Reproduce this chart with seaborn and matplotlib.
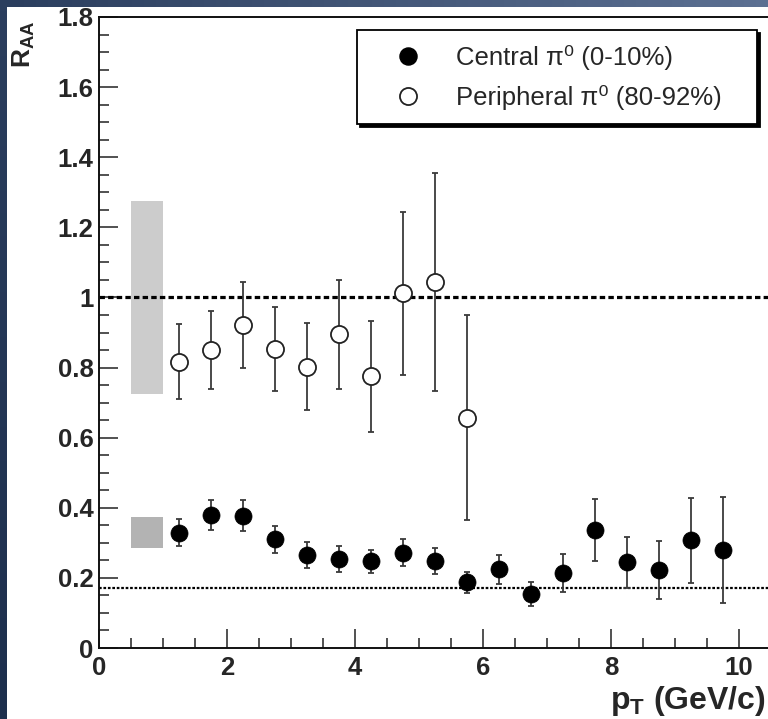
import numpy as np
import pandas as pd
import matplotlib
matplotlib.use("Agg")
import matplotlib.pyplot as plt
import seaborn as sns
from matplotlib.patches import Rectangle
from matplotlib.ticker import MultipleLocator, FuncFormatter
from matplotlib.lines import Line2D

# pi0 nuclear modification factor vs transverse momentum
pt_central = [1.25, 1.75, 2.25, 2.75, 3.25, 3.75, 4.25, 4.75, 5.25,
              5.75, 6.25, 6.75, 7.25, 7.75, 8.25, 8.75, 9.25, 9.75]
raa_central = [0.329, 0.379, 0.377, 0.310, 0.265, 0.253, 0.247, 0.272, 0.248,
               0.187, 0.224, 0.154, 0.215, 0.337, 0.245, 0.223, 0.307, 0.280]
err_central = [0.038, 0.042, 0.044, 0.038, 0.037, 0.037, 0.033, 0.038, 0.038,
               0.031, 0.041, 0.034, 0.054, 0.089, 0.073, 0.083, 0.122, 0.152]

pt_periph = [1.25, 1.75, 2.25, 2.75, 3.25, 3.75, 4.25, 4.75, 5.25, 5.75]
raa_periph = [0.817, 0.850, 0.921, 0.853, 0.803, 0.895, 0.775, 1.012, 1.045, 0.657]
err_periph = [0.107, 0.110, 0.122, 0.120, 0.125, 0.155, 0.158, 0.232, 0.311, 0.292]

# normalisation uncertainty boxes (x range, low, high)
norm_box_x = [0.5, 1.0]
norm_periph = [0.725, 1.274]
norm_central = [0.285, 0.373]

# reference levels: binary scaling and participant scaling
ncoll_level = 1.0
npart_level = 0.17

label_central = "Central \u03c0\u2070 (0-10%)"
label_periph = "Peripheral \u03c0\u2070 (80-92%)"

sns.set_style("ticks")
plt.rcParams["font.family"] = ["Liberation Sans", "DejaVu Sans"]
plt.rcParams["mathtext.fontset"] = "custom"
plt.rcParams["mathtext.rm"] = "Liberation Sans:bold"
plt.rcParams["mathtext.it"] = "Liberation Sans:bold"
plt.rcParams["mathtext.bf"] = "Liberation Sans:bold"

W, H = 768, 719
fig = plt.figure(figsize=(W / 100, H / 100), dpi=100)

# slide background: blue gradient with a white panel
bg = fig.add_axes([0, 0, 1, 1], zorder=-10)
bg.axis("off")
xx, yy = np.meshgrid(np.linspace(0, 1, 64), np.linspace(0, 1, 64))
c_bl = np.array([0x1d, 0x2f, 0x4d]) / 255
c_tl = np.array([0x2b, 0x3e, 0x5e]) / 255
c_tr = np.array([0x5c, 0x70, 0x92]) / 255
img = (c_bl[None, None, :] * (1 - yy[..., None])
       + (c_tl[None, None, :] * (1 - xx[..., None]) + c_tr[None, None, :] * xx[..., None]) * yy[..., None])
bg.imshow(img, origin="lower", extent=[0, 1, 0, 1], aspect="auto")
bg.set_xlim(0, 1)
bg.set_ylim(0, 1)
bg.add_patch(Rectangle((7 / W, 0), 1, (H - 7) / H, facecolor="white", edgecolor="none",
                       transform=bg.transAxes))

x0, y0, y1 = 99, 648, 17
ax = fig.add_axes([x0 / W, (H - y0) / H, (W - x0) / W, (y0 - y1) / H])
ax.set_facecolor("white")
ax.set_xlim(0, (W - x0) / 64.0)
ax.set_ylim(0, 1.8)

# normalisation boxes
ax.fill_between(norm_box_x, norm_periph[0], norm_periph[1], color="#cccccc", lw=0, zorder=1)
ax.fill_between(norm_box_x, norm_central[0], norm_central[1], color="#b3b3b3", lw=0, zorder=1)

# reference lines
ax.axhline(ncoll_level, color="black", lw=2.3, ls=(0, (1.7, 1.0)), zorder=2)
ax.axhline(npart_level, color="black", lw=1.6, ls=(0, (1.2, 0.8)), zorder=2)

# error bars
ax.errorbar(pt_periph, raa_periph, yerr=err_periph, fmt="none", ecolor="#3a3a3a",
            elinewidth=1.3, capsize=2.2, capthick=1.3, zorder=3)
ax.errorbar(pt_central, raa_central, yerr=err_central, fmt="none", ecolor="#3a3a3a",
            elinewidth=1.3, capsize=2.2, capthick=1.3, zorder=3)

df_c = pd.DataFrame({"pt": pt_central, "raa": raa_central})
df_p = pd.DataFrame({"pt": pt_periph, "raa": raa_periph})
ms = 12.3
sns.scatterplot(data=df_p, x="pt", y="raa", ax=ax, marker="o", s=ms ** 2,
                facecolor="white", edgecolor="#222222", linewidth=1.3, zorder=4, legend=False)
sns.scatterplot(data=df_c, x="pt", y="raa", ax=ax, marker="o", s=ms ** 2,
                color="black", edgecolor="black", linewidth=0.5, zorder=4, legend=False)

# axes styling
ax.spines["right"].set_visible(False)
for side in ("left", "bottom", "top"):
    ax.spines[side].set_color("#111111")
    ax.spines[side].set_linewidth(1.4)

ax.xaxis.set_major_locator(MultipleLocator(2))
ax.xaxis.set_minor_locator(MultipleLocator(0.5))
ax.yaxis.set_major_locator(MultipleLocator(0.2))
ax.yaxis.set_minor_locator(MultipleLocator(0.05))
ax.yaxis.set_major_formatter(FuncFormatter(lambda v, p: f"{v:g}"))
ax.xaxis.set_major_formatter(FuncFormatter(lambda v, p: f"{v:g}"))
ax.tick_params(which="both", direction="in", color="#333333", width=1.2,
               top=False, right=False)
ax.tick_params(which="major", length=13.5)
ax.tick_params(which="minor", length=7)
ax.tick_params(axis="y", which="major", pad=4, labelsize=18.5)
ax.tick_params(axis="x", which="major", pad=6, labelsize=18.5)
for lab in ax.get_xticklabels() + ax.get_yticklabels():
    lab.set_fontweight("bold")

ax.set_xlabel(r"$\mathrm{p}_{\mathrm{T}}$ (GeV/c)", fontsize=23, fontweight="bold")
ax.xaxis.label.set_ha("right")
ax.xaxis.set_label_coords(0.996, -0.057)
ax.set_ylabel(r"$\mathrm{R}_{\mathrm{AA}}$", fontsize=19, fontweight="bold")
ax.yaxis.label.set_ha("right")
ax.yaxis.set_label_coords(-0.093, 0.995)

handles = [
    Line2D([], [], ls="none", marker="o", markersize=ms, markerfacecolor="black",
           markeredgecolor="black"),
    Line2D([], [], ls="none", marker="o", markersize=ms, markerfacecolor="white",
           markeredgecolor="#222222", markeredgewidth=1.3),
]
leg = ax.legend(handles, [label_central, label_periph], loc="upper left",
                bbox_to_anchor=(0.386, 0.832, 0.598, 0.147), mode="expand",
                fontsize=18.5, frameon=True,
                fancybox=False, shadow={"color": "black", "alpha": 1.0},
                borderpad=0.57, labelspacing=0.58, handletextpad=0.42,
                handlelength=2.85, borderaxespad=0)
leg.get_frame().set_edgecolor("black")
leg.get_frame().set_linewidth(1.3)
leg.set_zorder(6)

fig.savefig("out.png", dpi=100)
